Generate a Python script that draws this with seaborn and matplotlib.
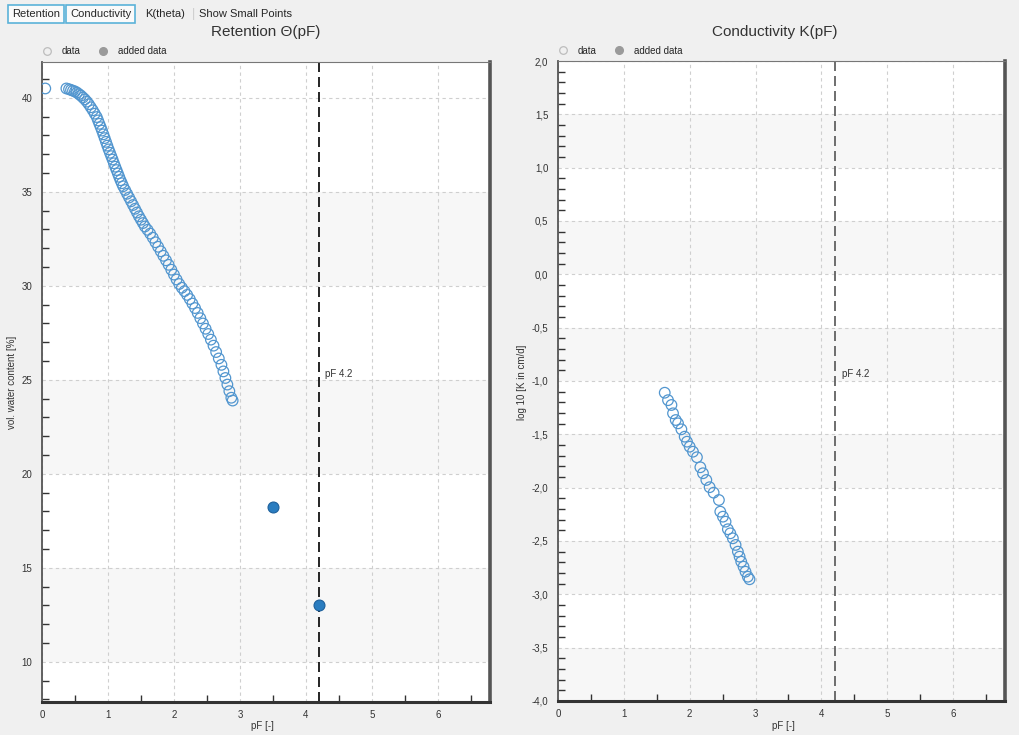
import matplotlib
matplotlib.use("Agg")
import matplotlib.pyplot as plt
import matplotlib.ticker as mticker
from matplotlib.lines import Line2D
import seaborn as sns

# retention data (pF, vol. water content %)
ret_pf = [0.05, 0.37, 0.41, 0.44, 0.47, 0.50, 0.53, 0.56, 0.59, 0.62, 0.65, 0.68,
          0.71, 0.74, 0.77, 0.80, 0.83, 0.85, 0.87, 0.89, 0.91, 0.93, 0.95, 0.97,
          0.99, 1.01, 1.03, 1.05, 1.07, 1.09, 1.11, 1.13, 1.15, 1.17, 1.19, 1.21,
          1.23, 1.26, 1.29, 1.32, 1.35, 1.38, 1.41, 1.44, 1.47, 1.50, 1.53, 1.56,
          1.60, 1.64, 1.68, 1.72, 1.76, 1.80, 1.84, 1.88, 1.92, 1.96, 2.00, 2.04,
          2.08, 2.12, 2.16, 2.20, 2.24, 2.28, 2.32, 2.36, 2.40, 2.44, 2.48, 2.52,
          2.56, 2.60, 2.64, 2.68, 2.72, 2.75, 2.78, 2.81, 2.84, 2.87, 2.89]
ret_theta = [40.50, 40.50, 40.46, 40.42, 40.38, 40.34, 40.28, 40.20, 40.12, 40.02, 39.92, 39.80,
             39.66, 39.50, 39.34, 39.16, 38.98, 38.80, 38.62, 38.44, 38.26, 38.06, 37.86, 37.66,
             37.46, 37.26, 37.08, 36.90, 36.72, 36.52, 36.34, 36.16, 35.98, 35.80, 35.62, 35.46,
             35.30, 35.10, 34.90, 34.70, 34.50, 34.30, 34.10, 33.90, 33.70, 33.52, 33.34, 33.16,
             32.98, 32.78, 32.56, 32.32, 32.08, 31.84, 31.60, 31.36, 31.12, 30.86, 30.60, 30.34,
             30.10, 29.90, 29.72, 29.52, 29.30, 29.06, 28.82, 28.56, 28.28, 28.00, 27.72, 27.44,
             27.14, 26.82, 26.48, 26.14, 25.80, 25.45, 25.10, 24.75, 24.40, 24.05, 23.90]

# added data points
add_pf = [3.50, 4.20]
add_theta = [18.25, 13.05]

# conductivity data (pF, log10 K)
con_pf = [1.621, 1.671, 1.723, 1.747, 1.788, 1.823, 1.874, 1.924, 1.959, 2.000, 2.050,
          2.110, 2.162, 2.202, 2.253, 2.303, 2.364, 2.444, 2.465, 2.505, 2.545, 2.580,
          2.617, 2.656, 2.697, 2.732, 2.758, 2.783, 2.818, 2.848, 2.883, 2.909]
con_logk = [-1.11, -1.18, -1.225, -1.303, -1.366, -1.397, -1.453, -1.522, -1.569, -1.616, -1.663,
            -1.715, -1.809, -1.865, -1.928, -1.996, -2.047, -2.116, -2.225, -2.272, -2.319, -2.39,
            -2.428, -2.475, -2.537, -2.60, -2.647, -2.694, -2.741, -2.788, -2.835, -2.859]

pf_mark = 4.2
x_ticks = [0, 1, 2, 3, 4, 5, 6]
ret_ticks = [10, 15, 20, 25, 30, 35, 40]
con_ticks = [-4.0, -3.5, -3.0, -2.5, -2.0, -1.5, -1.0, -0.5, 0.0, 0.5, 1.0, 1.5, 2.0]

sns.set_style("white")
plt.rcParams["font.family"] = ["Liberation Sans", "DejaVu Sans"]

open_col = "#5296cf"
fill_col = "#2a7dc0"

fig = plt.figure(figsize=(10.19, 7.35), dpi=100)
fig.patch.set_facecolor("#f0f0f0")

ax1 = fig.add_axes([0.0412, 0.045, 0.4396, 0.8707])
ax2 = fig.add_axes([0.5476, 0.0463, 0.4387, 0.8707])


def style_axes(ax, ylim, yticks, minor_step, bands, fmt):
    ax.set_xlim(0, 6.79)
    ax.set_ylim(*ylim)
    ax.set_facecolor("white")
    for lo, hi in bands:
        ax.axhspan(lo, hi, color="#f7f7f7", zorder=0, lw=0)
    ax.set_xticks(x_ticks)
    ax.set_yticks(yticks)
    ax.xaxis.set_minor_locator(mticker.MultipleLocator(0.5))
    ax.yaxis.set_minor_locator(mticker.MultipleLocator(minor_step))
    ax.yaxis.set_major_formatter(mticker.FuncFormatter(fmt))
    ax.grid(True, which="major", color="#cfcfcf", linestyle=(0, (3, 3)), lw=0.8)
    ax.set_axisbelow(True)
    ax.tick_params(axis="x", which="major", direction="inout", length=8, width=1,
                   labelsize=7, colors="#333333", pad=2)
    ax.tick_params(axis="y", which="major", direction="out", length=5, width=1,
                   labelsize=7, colors="#333333", pad=2)
    ax.tick_params(which="minor", direction="in", length=5, width=1, colors="#333333",
                   bottom=True, left=True)
    ax.spines["left"].set_color("#555555")
    ax.spines["left"].set_linewidth(1.3)
    ax.spines["bottom"].set_color("#333333")
    ax.spines["bottom"].set_linewidth(2.2)
    ax.spines["right"].set_color("#555555")
    ax.spines["right"].set_linewidth(2.6)
    ax.spines["top"].set_color("#777777")
    ax.spines["top"].set_linewidth(0.8)
    handles = [Line2D([], [], marker="o", ls="", mfc="none", mec="#bdbdbd", ms=5.5, mew=0.9),
               Line2D([], [], marker="o", ls="", mfc="#9a9a9a", mec="#9a9a9a", ms=5.5)]
    ax.legend(handles, ["data", "added data"], loc="lower left", bbox_to_anchor=(-0.008, 1.004),
              ncol=2, frameon=False, fontsize=7, handlelength=1.2, handletextpad=0.9,
              columnspacing=1.7, borderaxespad=0.1, borderpad=0.2)


style_axes(ax1, (7.87, 41.91), ret_ticks, 1,
           [(30, 35), (20, 25), (10, 15)], lambda v, p: f"{v:.0f}")
style_axes(ax2, (-4.0, 2.0), con_ticks, 0.1,
           [(1.0, 1.5), (0.0, 0.5), (-1.0, -0.5), (-2.0, -1.5), (-3.0, -2.5), (-4.0, -3.5)],
           lambda v, p: f"{v:.1f}".replace(".", ","))

# retention plot
sns.scatterplot(x=ret_pf, y=ret_theta, ax=ax1, marker="o", s=58, facecolor="none",
                edgecolor=open_col, linewidth=0.9, zorder=3, legend=False)
sns.scatterplot(x=add_pf, y=add_theta, ax=ax1, marker="o", s=62, color=fill_col,
                edgecolor="#1d609c", linewidth=0.8, zorder=4, legend=False)
ax1.axvline(pf_mark, color="black", linestyle=(0, (6, 3)), lw=1.2, zorder=2)
ax1.text(pf_mark + 0.09, 25.3, "pF 4.2", fontsize=7, color="#333333", va="center")

# conductivity plot
sns.scatterplot(x=con_pf, y=con_logk, ax=ax2, marker="o", s=58, facecolor="none",
                edgecolor=open_col, linewidth=0.9, zorder=3, legend=False)
ax2.axvline(pf_mark, color="#555555", linestyle=(0, (6, 3)), lw=1.2, zorder=2)
ax2.text(pf_mark + 0.12, -0.93, "pF 4.2", fontsize=7, color="#333333", va="center")

for ax in (ax1, ax2):
    ax.set_xlabel("")
    ax.set_ylabel("")

# titles and axis labels
fig.text(0.261, 0.9565, "Retention \u0398(pF)", ha="center", va="center", fontsize=11, color="#333333")
fig.text(0.760, 0.9565, "Conductivity K(pF)", ha="center", va="center", fontsize=11, color="#333333")
fig.text(0.258, 0.012, "pF [-]", ha="center", va="center", fontsize=7, color="#333333")
fig.text(0.769, 0.012, "pF [-]", ha="center", va="center", fontsize=7, color="#333333")
fig.text(0.012, 0.48, "vol. water content [%]", rotation=90, ha="center", va="center",
         fontsize=7, color="#333333")
fig.text(0.512, 0.48, "log 10 [K in cm/d]", rotation=90, ha="center", va="center",
         fontsize=7, color="#333333")

# toolbar
btn = dict(boxstyle="square,pad=0.35", fc="#fafafa", ec="#5bb2d9", lw=1.2)
fig.text(0.012, 0.981, "Retention", fontsize=8, va="center", bbox=btn)
fig.text(0.069, 0.981, "Conductivity", fontsize=8, va="center", bbox=btn)
fig.text(0.142, 0.981, "K(theta)", fontsize=8, va="center")
fig.text(0.188, 0.981, "|", fontsize=9, va="center", color="#cccccc")
fig.text(0.195, 0.981, "Show Small Points", fontsize=8, va="center")

fig.savefig("out.png", dpi=100, facecolor=fig.get_facecolor())
